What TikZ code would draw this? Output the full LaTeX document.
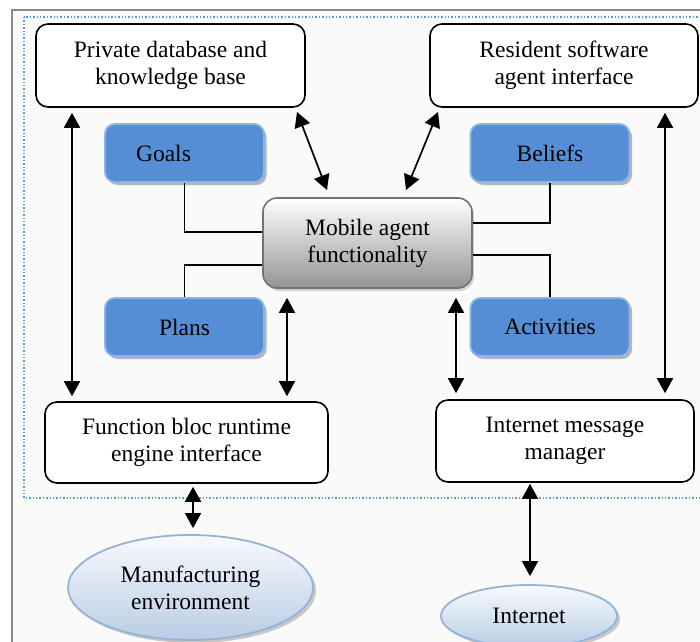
\documentclass[tikz,border=0pt]{standalone}
\usepackage{fontspec}
\setmainfont{Liberation Serif}
\usetikzlibrary{arrows.meta,shapes.geometric,shadows,calc}
\definecolor{framegray}{HTML}{8C8C8C}
\definecolor{dotblue}{HTML}{5B9BD5}
\definecolor{boxblue}{HTML}{558ED5}
\definecolor{boxblueline}{HTML}{8EB4E3}
\definecolor{ellline}{HTML}{95B3D7}
\definecolor{ellfill}{HTML}{B9CDE5}
\tikzset{
  txt/.style={font=\fontsize{23.5}{27}\selectfont, align=center, text=black, inner sep=0pt},
  wbox/.style={txt, draw=black, line width=1.6pt, rounded corners=12pt, fill=white},
  bbox/.style={txt, draw=boxblueline, line width=1.8pt, rounded corners=10pt, fill=boxblue,
    minimum width=159pt, minimum height=58pt,
    drop shadow={shadow xshift=2.5pt, shadow yshift=-3pt, fill=black!40, opacity=0.7}},
  mbox/.style={txt, draw=black!55, line width=1.6pt, rounded corners=14pt,
    top color=white, bottom color=black!42,
    minimum width=209pt, minimum height=90pt,
    drop shadow={shadow xshift=2pt, shadow yshift=-3pt, fill=black!30, opacity=0.5}},
  ebox/.style={txt, ellipse, draw=ellline, line width=1.8pt, top color=white!90!ellfill, bottom color=ellfill,
    drop shadow={shadow xshift=3pt, shadow yshift=-3pt, fill=black!35, opacity=0.6}},
  link/.style={line width=1.5pt, draw=black},
  arr/.style={line width=1.7pt, draw=black, {Triangle[width=16pt,length=15pt]}-{Triangle[width=16pt,length=15pt]}},
}
\begin{document}
\begin{tikzpicture}[x=1pt,y=-1pt]
\useasboundingbox (0,0) rectangle (700,641);
% outer frame and dotted agent boundary
\fill[black!2] (12,10) rectangle (705,645);
\draw[framegray, line width=1.8pt] (12,645) -- (12,10) -- (705,10);
\draw[dotblue, line width=1.4pt, dotted] (24,17) rectangle (706,498);

% white interface boxes
\node[wbox, minimum width=269pt, minimum height=83pt] (pdb) at (170.5,65.5) {Private database and\\knowledge base};
\node[wbox, minimum width=268pt, minimum height=83pt] (rsa) at (564,65.5) {Resident software\\agent interface};
\node[wbox, minimum width=283pt, minimum height=81pt] (fbr) at (186.5,442.5) {Function bloc runtime\\engine interface};
\node[wbox, minimum width=258pt, minimum height=82pt] (imm) at (565,441) {Internet message\\manager};

% blue knowledge boxes
\node[bbox] (goals) at (184.5,153) {Goals\hspace*{42pt}};
\node[bbox] (beliefs) at (550,153) {Beliefs};
\node[bbox] (plans) at (184.5,327) {Plans};
\node[bbox] (acts) at (550,327) {Activities};

% central functionality box
\node[mbox] (mob) at (367.5,243) {Mobile agent\\functionality};

% environment ellipses
\node[ebox, minimum width=245pt, minimum height=105pt] (manu) at (190.5,587.5) {Manufacturing\\environment};
\node[ebox, minimum width=176pt, minimum height=62pt] (inet) at (529,616) {Internet};

% plain links to the functionality box
\draw[link] (goals.south) |- ($(mob.west)+(0,-11)$);
\draw[link] (plans.north) |- ($(mob.west)+(0,22)$);
\draw[link] (beliefs.south) |- ($(mob.east)+(0,-20)$);
\draw[link] (acts.north) |- ($(mob.east)+(0,12)$);

% arrow end points
\coordinate (lv) at (72,0);
\coordinate (rv) at (665,0);
\coordinate (ml) at (287,0);
\coordinate (mr) at (456,0);
\coordinate (fm) at (193,0);
\coordinate (ii) at (530,0);
\coordinate (pa) at (297,112);
\coordinate (pb) at (327,190);
\coordinate (ra) at (438,112);
\coordinate (rb) at (406,190);

% double arrows
\draw[arr, shorten <=5pt, shorten >=5pt] (pdb.south -| lv) -- (fbr.north -| lv);
\draw[arr, shorten <=5pt, shorten >=6pt] (rsa.south -| rv) -- (imm.north -| rv);
\draw[arr] (pa) -- (pb);
\draw[arr] (ra) -- (rb);
\draw[arr, shorten <=9pt, shorten >=5pt] (mob.south -| ml) -- (fbr.north -| ml);
\draw[arr, shorten <=9pt, shorten >=6pt] (mob.south -| mr) -- (imm.north -| mr);
\draw[arr, shorten <=3pt, shorten >=6pt] (fbr.south -| fm) -- (manu.north -| fm);
\draw[arr, shorten <=1pt, shorten >=8pt] (imm.south -| ii) -- (inet.north -| ii);
\end{tikzpicture}
\end{document}
